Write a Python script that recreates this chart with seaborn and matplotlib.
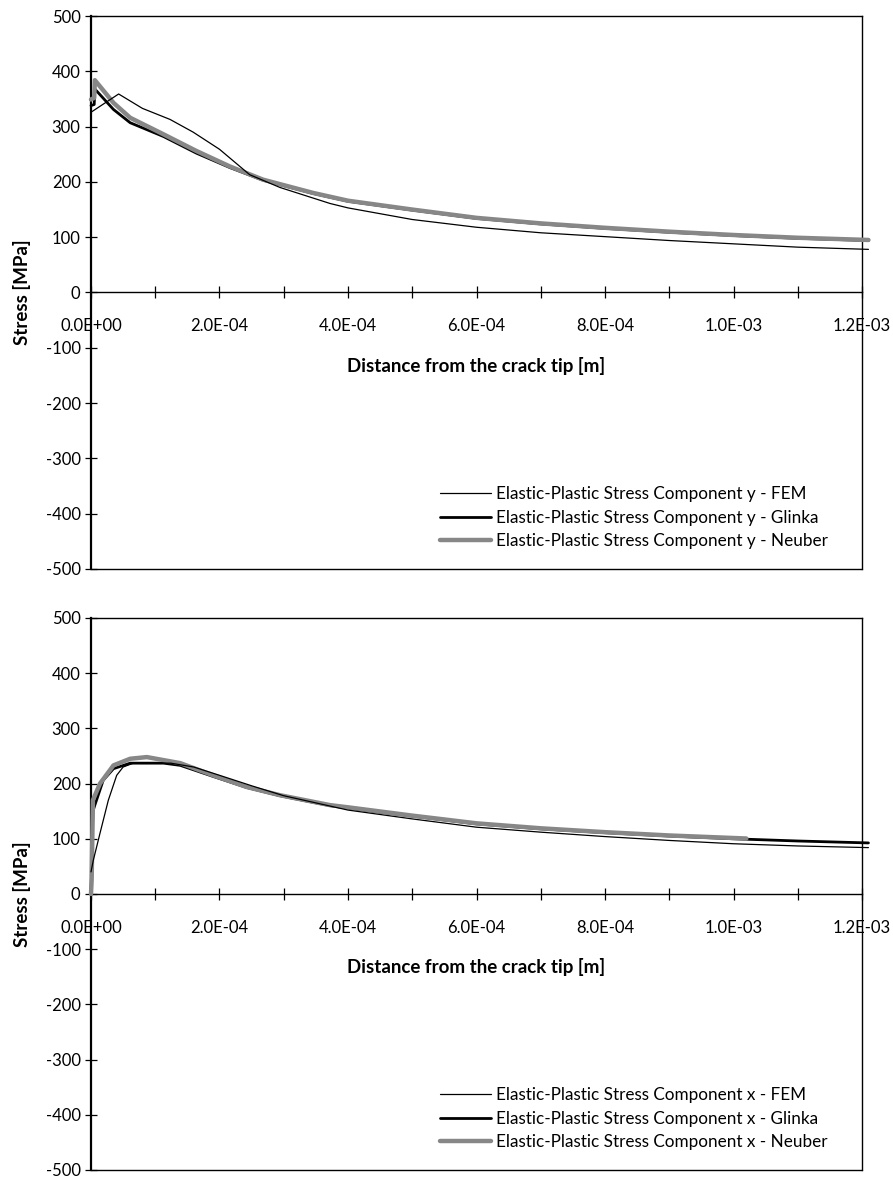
import numpy as np
import pandas as pd
import matplotlib
matplotlib.use('Agg')
import matplotlib.pyplot as plt
from matplotlib.ticker import MultipleLocator, FuncFormatter
import seaborn as sns

# distance in units of 1e-4 m, stress in MPa
# --- stress component y ---
y_fem_x = [0.0, 0.43, 0.80, 1.23, 1.59, 2.00, 2.47, 2.94, 3.72, 4.0, 5.0, 6.0, 7.0, 8.0, 9.0, 10.0, 11.0, 12.1]
y_fem = [326, 359, 333, 313, 290, 259, 213, 190, 161, 153, 132, 118, 108, 101, 94, 88, 82, 78]

y_glinka_x = [0.0, 0.05, 0.06, 0.35, 0.61, 1.13, 1.64, 2.16, 2.68, 3.46, 4.0, 5.0, 6.0, 7.0, 8.0, 9.0, 10.0, 11.0, 12.1]
y_glinka = [338, 340, 368, 331, 307, 282, 252, 226, 203, 179, 165, 149, 134, 124, 116, 109, 103, 98, 94]

y_neuber_x = [0.0, 0.05, 0.06, 0.35, 0.61, 1.13, 1.64, 2.16, 2.68, 3.46, 4.0, 5.0, 6.0, 7.0, 8.0, 9.0, 10.0, 11.0, 12.1]
y_neuber = [349, 352, 384, 343, 316, 286, 256, 228, 204, 180, 166, 150, 135, 125, 117, 110, 104, 99, 95]

# --- stress component x ---
x_fem_x = [0.0, 0.036, 0.14, 0.27, 0.40, 0.50, 0.66, 1.24, 1.6, 2.0, 2.5, 3.0, 4.0, 5.0, 6.0, 7.0, 8.0, 9.0, 10.0, 11.0, 12.1]
x_fem = [40, 61, 110, 170, 215, 230, 237, 237, 230, 215, 196, 178, 152, 136, 121, 112, 104, 97, 91, 87, 84]

x_glinka_x = [0.0, 0.03, 0.06, 0.19, 0.35, 0.61, 1.13, 1.39, 1.9, 2.42, 2.94, 3.72, 4.0, 5.0, 6.0, 7.0, 8.0, 9.0, 10.0, 11.0, 12.1]
x_glinka = [0, 150, 161, 206, 227, 237, 237, 233, 213, 193, 178, 160, 156, 141, 127, 118, 111, 105, 100, 96, 92.5]

x_neuber_x = [0.0, 0.01, 0.03, 0.14, 0.35, 0.61, 0.87, 1.39, 1.9, 2.42, 2.94, 3.72, 4.0, 5.0, 6.0, 7.0, 8.0, 9.0, 10.2]
x_neuber = [0, 25, 170, 200, 233, 245, 248, 237, 215, 194, 179, 161, 157, 142, 128, 119, 112, 106, 100.5]

panels = [
    ('y', [(y_fem_x, y_fem), (y_glinka_x, y_glinka), (y_neuber_x, y_neuber)]),
    ('x', [(x_fem_x, x_fem), (x_glinka_x, x_glinka), (x_neuber_x, x_neuber)]),
]
methods = ['FEM', 'Glinka', 'Neuber']
styles = {'FEM': dict(color='black', lw=0.9, z=4),
          'Glinka': dict(color='black', lw=2.0, z=2),
          'Neuber': dict(color='#878787', lw=3.2, z=3)}

sns.set_style('white')
plt.rcParams['font.family'] = ['Lato', 'DejaVu Sans']
plt.rcParams['axes.unicode_minus'] = False
plt.rcParams['text.color'] = 'black'
plt.rcParams['axes.labelcolor'] = 'black'

fig = plt.figure(figsize=(8.93, 11.78), dpi=100)
axes = [fig.add_axes([0.1019, 0.5170, 0.8634, 0.4694]),
        fig.add_axes([0.1019, 0.0068, 0.8634, 0.4686])]

for ax, (comp, series) in zip(axes, panels):
    for m, (xs, ys) in zip(methods, series):
        df = pd.DataFrame({'dist': np.array(xs) * 1e-4, 'stress': ys})
        st = styles[m]
        sns.lineplot(data=df, x='dist', y='stress', ax=ax, color=st['color'],
                     linewidth=st['lw'], estimator=None, sort=False,
                     label='Elastic-Plastic Stress Component %s - %s' % (comp, m),
                     zorder=st['z'], clip_on=False)

    ax.set_xlim(0, 1.2e-3)
    ax.set_ylim(-500, 500)
    ax.xaxis.set_major_locator(MultipleLocator(2e-4))
    ax.xaxis.set_minor_locator(MultipleLocator(1e-4))
    ax.xaxis.set_major_formatter(FuncFormatter(lambda v, p: '%.1E' % v))
    ax.yaxis.set_major_locator(MultipleLocator(100))

    ax.spines['bottom'].set_position(('data', 0))
    for s in ['bottom', 'top', 'right']:
        ax.spines[s].set_color('black')
        ax.spines[s].set_linewidth(1.0)
    ax.spines['left'].set_color('black')
    ax.spines['left'].set_linewidth(1.6)
    ax.plot([0, 1], [0, 0], transform=ax.transAxes, color='black', lw=1.0, clip_on=False)

    ax.tick_params(axis='x', which='both', direction='inout', length=9, width=0.9,
                   bottom=True, colors='black', labelsize=12, pad=14)
    ax.tick_params(axis='y', which='major', direction='inout', length=9, width=0.9,
                   left=True, colors='black', labelsize=12, pad=3)

    ax.set_xlabel('Distance from the crack tip [m]', fontsize=13.5, fontweight='bold',
                  va='center', color='black')
    ax.set_ylabel('Stress [MPa]', fontsize=13.5, fontweight='bold', va='center', color='black')
    ax.xaxis.set_label_coords(0.5, 0.367)
    ax.yaxis.set_label_coords(-0.0895, 0.5)

    ax.legend(loc='center left', bbox_to_anchor=(0.4527, 0.0928), frameon=False,
              fontsize=12.3, handlelength=3.0, handletextpad=0.25, labelspacing=0.45,
              borderpad=0, borderaxespad=0, labelcolor='black')

fig.savefig('out.png', dpi=100)
